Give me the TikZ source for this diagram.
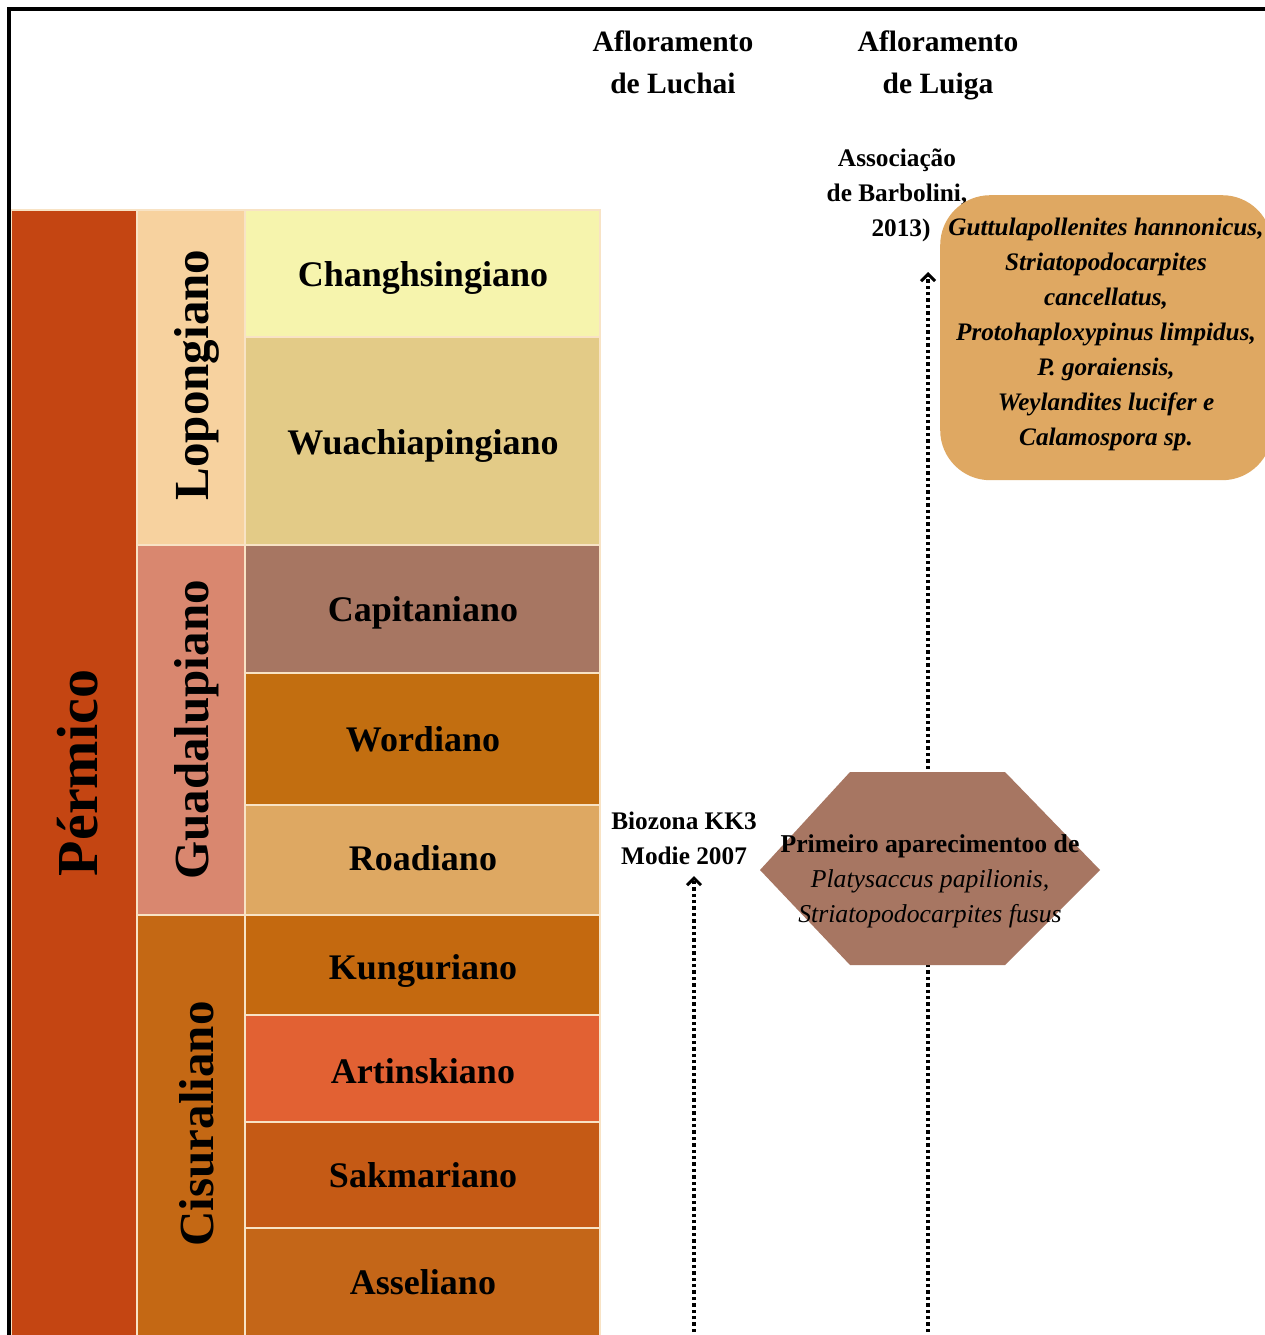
\documentclass[tikz,border=0pt]{standalone}
\usepackage{fontspec}
\setmainfont{Liberation Serif}
\usetikzlibrary{arrows.meta}
\definecolor{permc}{HTML}{C44512}
\definecolor{lopc}{HTML}{F7D29F}
\definecolor{guac}{HTML}{D9876F}
\definecolor{cisc}{HTML}{C46814}
\definecolor{chgc}{HTML}{F6F4AD}
\definecolor{wuac}{HTML}{E3CB87}
\definecolor{capc}{HTML}{A77662}
\definecolor{worc}{HTML}{C26E10}
\definecolor{roac}{HTML}{DEA862}
\definecolor{kunc}{HTML}{C4690F}
\definecolor{artc}{HTML}{E26133}
\definecolor{sakc}{HTML}{C55A15}
\definecolor{assc}{HTML}{C46618}
\definecolor{boxc}{HTML}{DFA862}
\definecolor{hexc}{HTML}{A77662}
\definecolor{sepc}{HTML}{F8E3C5}
\tikzset{
  cellbox/.style={draw=sepc, line width=1.2pt, inner sep=0pt, outer sep=0pt, anchor=north west},
  stagebox/.style={cellbox, minimum width=355pt},
  stagetxt/.style={font=\fontsize{36}{42}\selectfont\bfseries},
  seriestxt/.style={rotate=90, font=\fontsize{49}{50}\selectfont\bfseries},
  headtxt/.style={align=center, font=\fontsize{29.5}{42}\selectfont\bfseries},
  smalltxt/.style={align=center, font=\fontsize{25.3}{35}\selectfont\bfseries},
  dotarrow/.style={line width=3.6pt, dash pattern=on 3.4pt off 3pt, -{Straight Barb[length=7pt,width=14pt,line width=3pt]}}
}
\begin{document}
\begin{tikzpicture}[x=1pt,y=-1pt]
\useasboundingbox (0,0) rectangle (1265,1335);
\clip (0,0) rectangle (1265,1335);
\fill[white] (0,0) rectangle (1265,1335);
% Permico column
\node[cellbox, fill=permc, minimum width=126pt, minimum height=1130pt] (perm) at (11,210) {};
\node[rotate=90, font=\fontsize{58}{60}\selectfont\bfseries] (permt) at (78,773) {Pérmico};
% frame
\draw[line width=3.5pt, black] (9,1340) -- (9,9) -- (1270,9);
% series
\node[cellbox, fill=lopc, minimum width=108pt, minimum height=335pt] (lop) at (137,210) {};
\node[cellbox, fill=guac, minimum width=108pt, minimum height=370pt] (gua) at (137,545) {};
\node[cellbox, fill=cisc, minimum width=108pt, minimum height=425pt] (cis) at (137,915) {};
\node[seriestxt] (lopt) at (197,375) {Lopongiano};
\node[seriestxt] (guat) at (197,730) {Guadalupiano};
\node[seriestxt] (cist) at (197,1124) {Cisuraliano};
% stages
\node[stagebox, fill=chgc, minimum height=127pt] (chg) at (245,210) {};
\node[stagebox, fill=wuac, minimum height=208pt] (wua) at (245,337) {};
\node[stagebox, fill=capc, minimum height=128pt] (cap) at (245,545) {};
\node[stagebox, fill=worc, minimum height=132pt] (wor) at (245,673) {};
\node[stagebox, fill=roac, minimum height=110pt] (roa) at (245,805) {};
\node[stagebox, fill=kunc, minimum height=100pt] (kun) at (245,915) {};
\node[stagebox, fill=artc, minimum height=107pt] (art) at (245,1015) {};
\node[stagebox, fill=sakc, minimum height=106pt] (sak) at (245,1122) {};
\node[stagebox, fill=assc, minimum height=110pt] (ass) at (245,1228) {};
\node[stagetxt] (chgt) at (423,278) {Changhsingiano};
\node[stagetxt] (wuat) at (423,446) {Wuachiapingiano};
\node[stagetxt] (capt) at (423,613) {Capitaniano};
\node[stagetxt] (wort) at (423,739) {Wordiano};
\node[stagetxt] (roat) at (423,858) {Roadiano};
\node[stagetxt] (kunt) at (423,971) {Kunguriano};
\node[stagetxt] (artt) at (423,1071) {Artinskiano};
\node[stagetxt] (sakt) at (423,1175) {Sakmariano};
\node[stagetxt] (asst) at (423,1282) {Asseliano};
% headers
\node[headtxt] (luchai) at (673,65) {Afloramento\\de Luchai\vphantom{g}};
\node[headtxt] (luiga) at (938,65) {Afloramento\\de Luiga};
\node[smalltxt] (barb) at (897,195) {Associação\\de Barbolini,\\\hspace*{8pt}2013)};
\node[smalltxt] (bio) at (684,838) {Biozona KK3\\Modie 2007};
% arrows
\coordinate (lucbot) at (694,1345);
\coordinate (luctip) at (694,876);
\coordinate (luibot) at (928,1345);
\coordinate (luitip) at (928,272);
\draw[dotarrow] (lucbot) -- (luctip);
\draw[dotarrow] (luibot) -- (luitip);
% rounded box
\node[fill=boxc, rounded corners=50pt, inner sep=0pt, anchor=north west, minimum width=332pt, minimum height=285pt] (box) at (940,195) {};
\node[align=center, font=\fontsize{25.2}{35}\selectfont\bfseries\itshape] (boxt) at (1106,334.5) {Guttulapollenites hannonicus,\\Striatopodocarpites\\cancellatus,\\Protohaploxypinus limpidus,\\P. goraiensis,\\Weylandites lucifer e\\Calamospora sp.};
% hexagon
\fill[hexc] (760,870) -- (850,772) -- (1005,772) -- (1100,870) -- (1005,965) -- (850,965) -- cycle;
\node[align=center, font=\fontsize{25.7}{35}\selectfont] (hext) at (930,881) {\textbf{Primeiro aparecimentoo de}\\\textit{Platysaccus papilionis,}\\\textit{Striatopodocarpites fusus}};
\end{tikzpicture}
\end{document}
